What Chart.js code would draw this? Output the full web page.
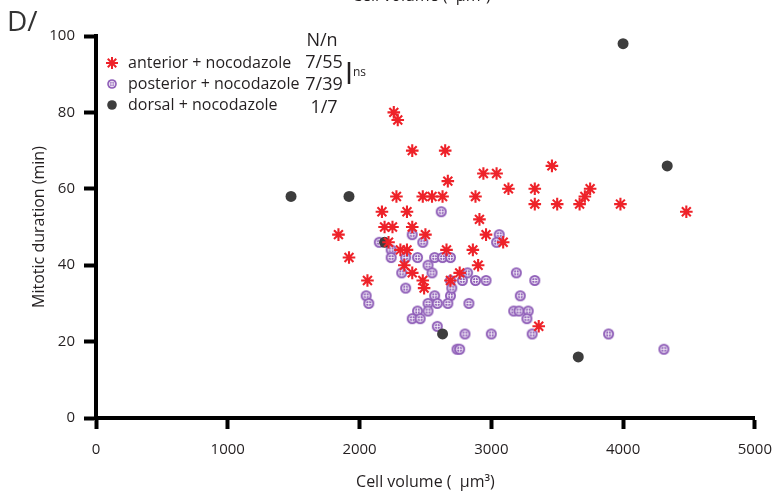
<!DOCTYPE html>
<html><head><meta charset="utf-8">
<script src="https://cdn.jsdelivr.net/npm/chart.js@4/dist/chart.umd.min.js"></script>
<style>
html,body{margin:0;padding:0;background:#fff;}
#wrap{position:relative;width:784px;height:497px;overflow:hidden;background:#fff;}
canvas{position:absolute;left:0;top:0;}
.lbl{position:absolute;font-family:'Open Sans',sans-serif;color:#231f20;white-space:pre;}
</style></head><body>
<div id="wrap">
<canvas id="c" width="784" height="497"></canvas>
<div class="lbl" style="left:352px;top:-14px;font-size:16px;line-height:19px;">Cell volume (  μm³)</div>
<div class="lbl" style="left:7px;top:0px;font-size:28px;line-height:40px;color:#333;">D/</div>
</div>
<script>
// ---- data ----
const seriesLabels = ['anterior + nocodazole', 'posterior + nocodazole', 'dorsal + nocodazole'];
const seriesCounts = ['7/55', '7/39', '1/7'];
const countHeader = 'N/n';
const sigLabel = 'ns';

const anteriorVolume = [2260,2290,2400,2650,3460,2940,3040,2670,3130,3330,3750,3710,2280,2480,2550,2630,2880,3330,3500,3670,3980,4480,2170,2360,2910,2190,2250,2400,2500,2960,1840,3090,2220,2310,2360,2660,2860,1920,2340,2900,2400,2760,2060,2480,2690,2490,3360];
const anteriorDuration = [80,78,70,70,66,64,64,62,60,60,60,58,58,58,58,58,58,56,56,56,56,54,54,54,52,50,50,50,48,48,48,46,46,44,44,44,44,42,40,40,38,38,36,36,36,34,24];

const posteriorVolume = [2620,2400,2480,3060,3040,2240,2150,2240,2350,2440,2570,2630,2690,2520,2050,2070,2320,2350,2550,2820,2780,2880,2960,2690,3190,3330,2570,2690,2700,3220,2520,2590,2670,2830,2440,2520,2400,2460,3170,3210,3280,3270,2590,2800,3000,3310,3890,2740,2760,4310];
const posteriorDuration = [54,48,46,48,46,44,46,42,42,42,42,42,42,40,32,30,38,34,38,38,36,36,36,36,38,36,32,32,34,32,30,30,30,30,28,28,26,26,28,28,28,26,24,22,22,22,22,18,18,18];

const dorsalVolume = [1480,1920,4000,4335,2190,2630,3660];
const dorsalDuration = [58,58,98,66,46,22,16];

const xTicks = [0,1000,2000,3000,4000,5000];
const yTicks = [0,20,40,60,80,100];

// ---- styles ----
const RED = '#ee2229', PURPLE = '#8f5eb8', DARK = '#3d3d3d', INK = '#231f20';
const FONT = "'Open Sans', sans-serif";

function makePurple(r){
  const s = Math.ceil(r*2+2);
  const cv = document.createElement('canvas'); cv.width = s; cv.height = s;
  const c = cv.getContext('2d'); const m = s/2;
  c.fillStyle = PURPLE; c.beginPath(); c.arc(m,m,r,0,Math.PI*2); c.fill();
  c.strokeStyle = 'rgba(255,255,255,0.8)'; c.lineWidth = 1;
  c.beginPath(); c.arc(m,m,r*0.58,0,Math.PI*2); c.stroke();
  c.beginPath(); c.moveTo(m-r*0.58,m); c.lineTo(m+r*0.58,m); c.moveTo(m,m-r*0.58); c.lineTo(m,m+r*0.58); c.stroke();
  return cv;
}
const purpleImg = makePurple(5.5);
const purpleLegend = makePurple(4.8);

const toPts = (xs, ys) => xs.map((x,i)=>({x:x, y:ys[i]}));

function drawStar(ctx, x, y, r, color, w){
  ctx.strokeStyle = color; ctx.lineWidth = w;
  ctx.beginPath();
  for (let k=0;k<4;k++){
    const a = k*Math.PI/4;
    ctx.moveTo(x - r*Math.cos(a), y - r*Math.sin(a));
    ctx.lineTo(x + r*Math.cos(a), y + r*Math.sin(a));
  }
  ctx.stroke();
}

const legendPlugin = {
  id: 'insetLegend',
  afterDraw(chart){
    const ctx = chart.ctx; ctx.save();
    drawStar(ctx, 112, 63, 6, RED, 2);
    ctx.drawImage(purpleLegend, 112 - purpleLegend.width/2, 84 - purpleLegend.height/2);
    ctx.fillStyle = DARK; ctx.beginPath(); ctx.arc(112, 105, 4.8, 0, Math.PI*2); ctx.fill();
    ctx.fillStyle = INK; ctx.textBaseline = 'middle'; ctx.textAlign = 'left';
    ctx.font = '16px ' + FONT;
    const ly = [63, 84, 105];
    seriesLabels.forEach((t,i)=>ctx.fillText(t, 128, ly[i]));
    ctx.textAlign = 'center'; ctx.font = '18px ' + FONT;
    ctx.fillText(countHeader, 322, 41);
    const cy = [63, 85, 108];
    seriesCounts.forEach((t,i)=>ctx.fillText(t, 324, cy[i]));
    ctx.strokeStyle = INK; ctx.lineWidth = 2.5;
    ctx.beginPath(); ctx.moveTo(349, 62); ctx.lineTo(349, 84); ctx.stroke();
    ctx.textAlign = 'left'; ctx.font = '12px ' + FONT;
    ctx.fillText(sigLabel, 353, 73);
    ctx.restore();
  }
};

Chart.defaults.font.family = FONT;
Chart.defaults.color = INK;

new Chart(document.getElementById('c'), {
  type: 'scatter',
  data: {
    datasets: [
      { label: seriesLabels[0], data: toPts(anteriorVolume, anteriorDuration), pointStyle: 'star',
        pointRadius: 6.3, pointBorderWidth: 2.1, borderColor: RED, backgroundColor: RED, order: 0 },
      { label: seriesLabels[1], data: toPts(posteriorVolume, posteriorDuration), pointStyle: purpleImg,
        pointRadius: 5.5, borderColor: PURPLE, backgroundColor: PURPLE, order: 2 },
      { label: seriesLabels[2], data: toPts(dorsalVolume, dorsalDuration), pointStyle: 'circle',
        pointRadius: 5.5, pointBorderWidth: 0, borderColor: DARK, backgroundColor: DARK, order: 1 }
    ]
  },
  options: {
    responsive: false, animation: false, devicePixelRatio: 1,
    layout: { padding: { top: 36, right: 19, bottom: 0, left: 0 } },
    plugins: { legend: { display: false }, tooltip: { enabled: false } },
    scales: {
      x: {
        type: 'linear', min: 0, max: 5000,
        afterBuildTicks: s => { s.ticks = xTicks.map(v=>({value:v})); },
        afterFit: s => { s.height = 79; },
        ticks: { font: { size: 15 }, color: INK, padding: 12, maxRotation: 0, callback: v => String(v) },
        grid: { drawOnChartArea: false, drawTicks: true, tickLength: 11, tickWidth: 4, tickColor: '#000' },
        border: { display: true, width: 4, color: '#000' },
        title: { display: true, text: 'Cell volume (  μm³)', font: { size: 16 }, color: INK, padding: { top: 0, bottom: 5 } }
      },
      y: {
        type: 'linear', min: 0, max: 100,
        afterBuildTicks: s => { s.ticks = yTicks.map(v=>({value:v})); },
        afterFit: s => { s.width = 96; },
        ticks: { font: { size: 15 }, color: INK, padding: 9 },
        grid: { drawOnChartArea: false, drawTicks: true, tickLength: 12, tickWidth: 4, tickColor: '#000' },
        border: { display: true, width: 4, color: '#000' },
        title: { display: true, text: 'Mitotic duration (min)', font: { size: 16 }, color: INK, padding: { top: 30, bottom: 0 } }
      }
    }
  },
  plugins: [legendPlugin]
});
</script>
</body></html>
